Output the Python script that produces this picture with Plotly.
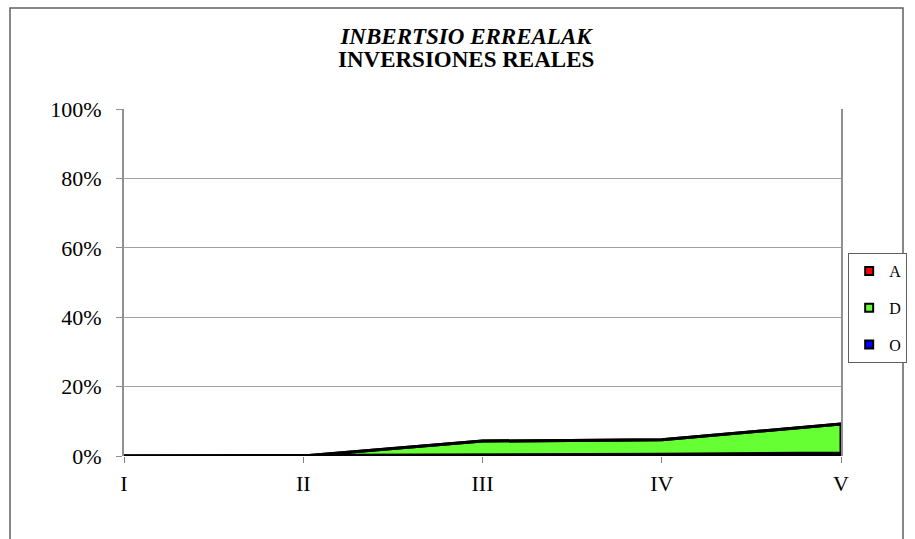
import plotly.graph_objects as go
import numpy as np

categories = ["I", "II", "III", "IV", "V"]
series_names = ["O", "D", "A"]          # stacking order, bottom to top
values_O = [0.0, 0.0, 0.3, 0.5, 0.9]
values_D = [0.0, 0.0, 4.0, 4.2, 8.3]
values_A = [0.0, 0.0, 0.0, 0.0, 0.0]
colors = {"O": "#0000FF", "D": "#66FF33", "A": "#FF0000"}
y_ticks = [0, 20, 40, 60, 80, 100]
y_tick_labels = ["0%", "20%", "40%", "60%", "80%", "100%"]
title_line1 = "INBERTSIO ERREALAK"
title_line2 = "INVERSIONES REALES"

FONT = "Liberation Serif"
x = list(range(len(categories)))
series = {"O": values_O, "D": values_D, "A": values_A}

fig = go.Figure()
lower = np.zeros(len(categories))
for name in series_names:
    upper = lower + np.array(series[name])
    xs = x + x[::-1]
    ys = list(upper) + list(lower[::-1])
    fig.add_trace(go.Scatter(
        x=xs, y=ys, mode="lines", fill="toself",
        fillcolor=colors[name], line=dict(color="black", width=3),
        showlegend=False, hoverinfo="skip"))
    lower = upper

# legend entries (top to bottom: A, D, O)
for name in series_names[::-1]:
    fig.add_trace(go.Scatter(
        x=[None], y=[None], mode="markers", name=name,
        legendgroup=name,
        marker=dict(symbol="square", size=8, color=colors[name],
                    line=dict(color="black", width=2))))

L, R, T, B = 124, 74, 109, 83
PW = 915 - L - R
PH = 539 - T - B
fig.update_layout(
    width=915, height=539,
    margin=dict(l=L, r=R, t=T, b=B, autoexpand=False),
    paper_bgcolor="white", plot_bgcolor="white",
    font=dict(family=FONT, color="black"),
    title=dict(
        text=f"<b><i>{title_line1}</i></b>",
        x=466 / 915, xanchor="center", y=1 - 36 / 539, yanchor="middle",
        font=dict(family=FONT, size=23, color="black")),
    showlegend=True,
    legend=dict(
        x=1.01, xanchor="left", y=(539 - B - 253) / PH, yanchor="top",
        bgcolor="white", bordercolor="#606060", borderwidth=1,
        font=dict(family=FONT, size=16, color="black"),
        tracegroupgap=13, itemwidth=30,
        traceorder="grouped"),
    xaxis=dict(
        range=[0, 4], tickvals=x, ticktext=categories,
        showgrid=False, zeroline=False,
        showline=False,
        ticks="outside", ticklen=6, tickcolor="#808080",
        ticklabelstandoff=2,
        tickfont=dict(family=FONT, size=22, color="black"),
        fixedrange=True),
    yaxis=dict(
        range=[0, 100], tickvals=y_ticks, ticktext=y_tick_labels,
        showgrid=True, gridcolor="#a0a0a0", gridwidth=1,
        zeroline=False, showline=True, linecolor="#909090", linewidth=2,
        mirror=True,
        ticks="outside", ticklen=6, tickcolor="#909090",
        ticklabelstandoff=10,
        tickfont=dict(family=FONT, size=22, color="black"),
        fixedrange=True),
)

fig.add_annotation(
    x=(466 - L) / PW, y=(539 - B - 60) / PH, xref="paper", yref="paper",
    xanchor="center", yanchor="middle", showarrow=False,
    text=f"<b>{title_line2}</b>",
    font=dict(family=FONT, size=23, color="black"))

# outer chart frame (pixel edges converted to paper fractions)
fig.add_shape(type="rect", xref="paper", yref="paper",
              x0=(10 - L) / PW, x1=(903 - L) / PW,
              y0=(539 - B - 560) / PH, y1=(539 - B - 8) / PH,
              line=dict(color="#606060", width=1.5), layer="below")

fig.write_html("out.html", config={"displayModeBar": False},
               post_script="document.body.style.margin='0';")
